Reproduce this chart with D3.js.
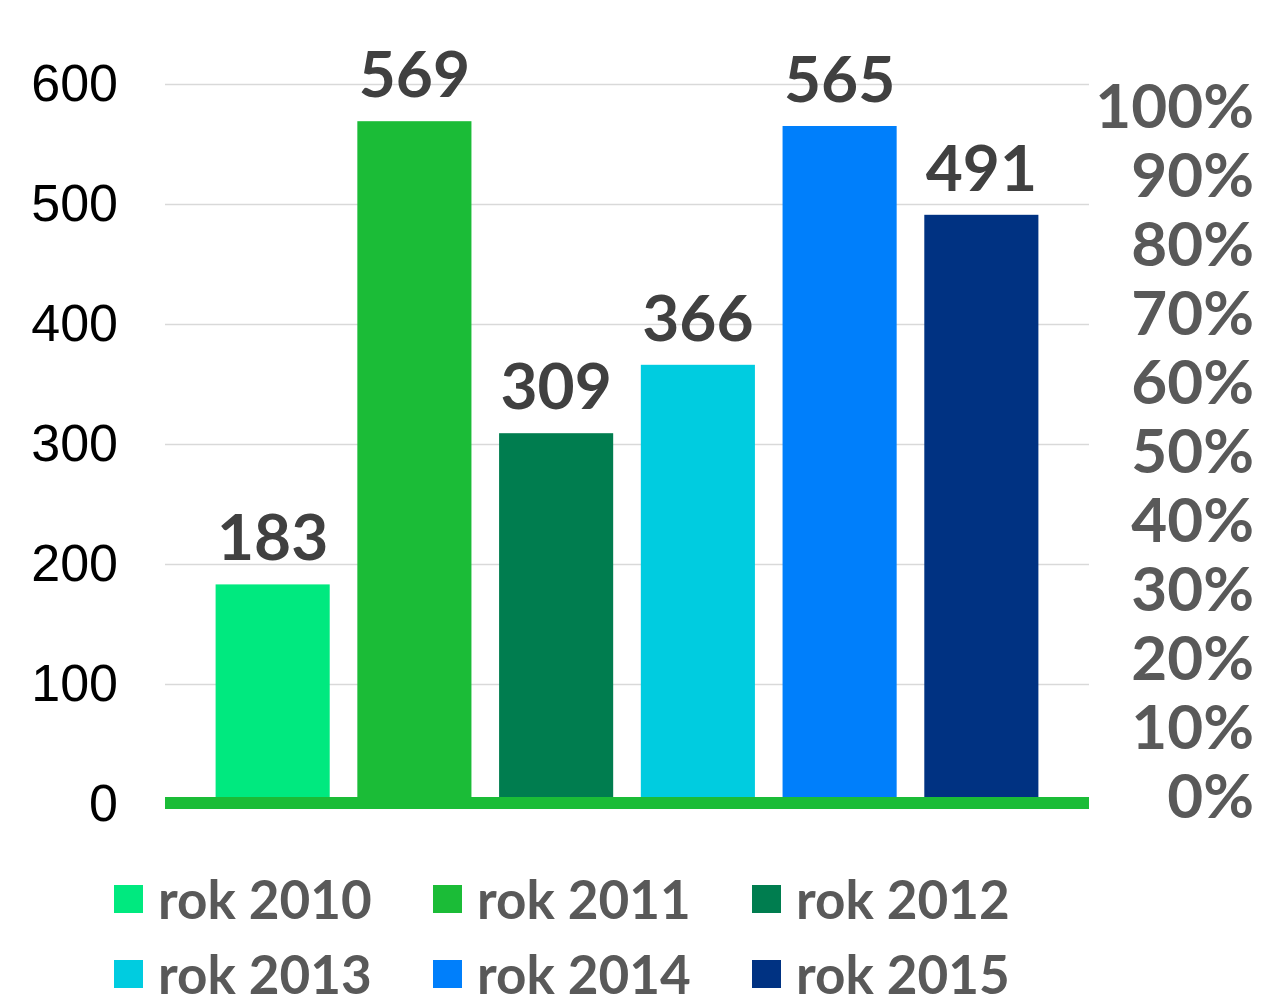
<!DOCTYPE html>
<html>
<head>
<meta charset="utf-8">
<script src="https://d3js.org/d3.v7.min.js"></script>
<style>
  body { margin: 0; background: #fff; }
  svg { display: block; }
</style>
</head>
<body>
<div id="chart"></div>
<script>
// data
var years = ["rok 2010", "rok 2011", "rok 2012", "rok 2013", "rok 2014", "rok 2015"];
var values = [183, 569, 309, 366, 565, 491];
var colors = ["#00e97f", "#1bbc37", "#007d4f", "#00cce0", "#007ffb", "#003282"];
var leftTicks = [0, 100, 200, 300, 400, 500, 600];
var rightTicks = [0, 0.1, 0.2, 0.3, 0.4, 0.5, 0.6, 0.7, 0.8, 0.9, 1];

var W = 1261, H = 994;
var plot = {left: 165, right: 1089, zero: 804};

var svg = d3.select("#chart").append("svg")
    .attr("width", W)
    .attr("height", H);

var x = d3.scaleBand()
    .domain(years)
    .range([plot.left, plot.right])
    .paddingInner(0.195)
    .paddingOuter(0.357);

var y = d3.scaleLinear()
    .domain([0, 600])
    .range([plot.zero, plot.zero - 720]);

var yRight = d3.scaleLinear()
    .domain([0, 1])
    .range([798, 108]);

// gridlines
svg.append("g")
    .attr("class", "grid")
    .attr("transform", "translate(" + plot.left + ",0)")
    .call(d3.axisLeft(y).tickValues(leftTicks).tickSize(-(plot.right - plot.left)).tickFormat(""))
    .call(function(g) { g.select(".domain").remove(); })
    .selectAll("line")
    .style("stroke", "#d9d9d9")
    .style("stroke-width", 1.5);

// left axis
svg.append("g")
    .attr("class", "y axis")
    .attr("transform", "translate(" + plot.left + ",0)")
    .call(d3.axisLeft(y).tickValues(leftTicks).tickSize(0).tickPadding(47))
    .call(function(g) { g.select(".domain").remove(); })
    .selectAll("text")
    .style("font-family", "'Liberation Sans', Arial, sans-serif")
    .style("font-size", "52px")
    .style("fill", "#000");

// right percentage axis (no gridlines)
svg.append("g")
    .attr("class", "y2 axis")
    .attr("transform", "translate(1254,0)")
    .call(d3.axisLeft(yRight).tickValues(rightTicks).tickSize(0).tickPadding(0).tickFormat(d3.format(".0%")))
    .call(function(g) { g.select(".domain").remove(); })
    .selectAll("text")
    .style("font-family", "Lato, sans-serif")
    .style("font-weight", "bold")
    .style("font-size", "62px")
    .style("fill", "#595959");

// bars
svg.selectAll(".bar")
    .data(values)
  .enter().append("rect")
    .attr("class", "bar")
    .attr("x", function(d, i) { return x(years[i]); })
    .attr("y", function(d) { return y(d); })
    .attr("width", x.bandwidth())
    .attr("height", function(d) { return y(0) - y(d); })
    .style("fill", function(d, i) { return colors[i]; });

// value labels
svg.selectAll(".val")
    .data(values)
  .enter().append("text")
    .attr("class", "val")
    .attr("x", function(d, i) { return x(years[i]) + x.bandwidth() / 2; })
    .attr("y", function(d) { return y(d) - 24; })
    .attr("text-anchor", "middle")
    .text(function(d) { return d; })
    .style("font-family", "Lato, sans-serif")
    .style("font-weight", "bold")
    .style("font-size", "64px")
    .style("fill", "#404040");

// green baseline
svg.append("line")
    .attr("x1", plot.left)
    .attr("x2", plot.right)
    .attr("y1", y(0) - 1)
    .attr("y2", y(0) - 1)
    .style("stroke", colors[1])
    .style("stroke-width", 12);

// legend, 3 columns x 2 rows
var legend = svg.selectAll(".legend")
    .data(years)
  .enter().append("g")
    .attr("class", "legend")
    .attr("transform", function(d, i) {
      return "translate(" + (114 + (i % 3) * 319) + "," + (885 + Math.floor(i / 3) * 75) + ")";
    });

legend.append("rect")
    .attr("width", 29)
    .attr("height", 28)
    .style("fill", function(d, i) { return colors[i]; });

legend.append("text")
    .attr("x", 44)
    .attr("y", 34)
    .text(function(d) { return d; })
    .style("font-family", "Lato, sans-serif")
    .style("font-weight", "bold")
    .style("font-size", "53px")
    .style("fill", "#595959");
</script>
</body>
</html>
